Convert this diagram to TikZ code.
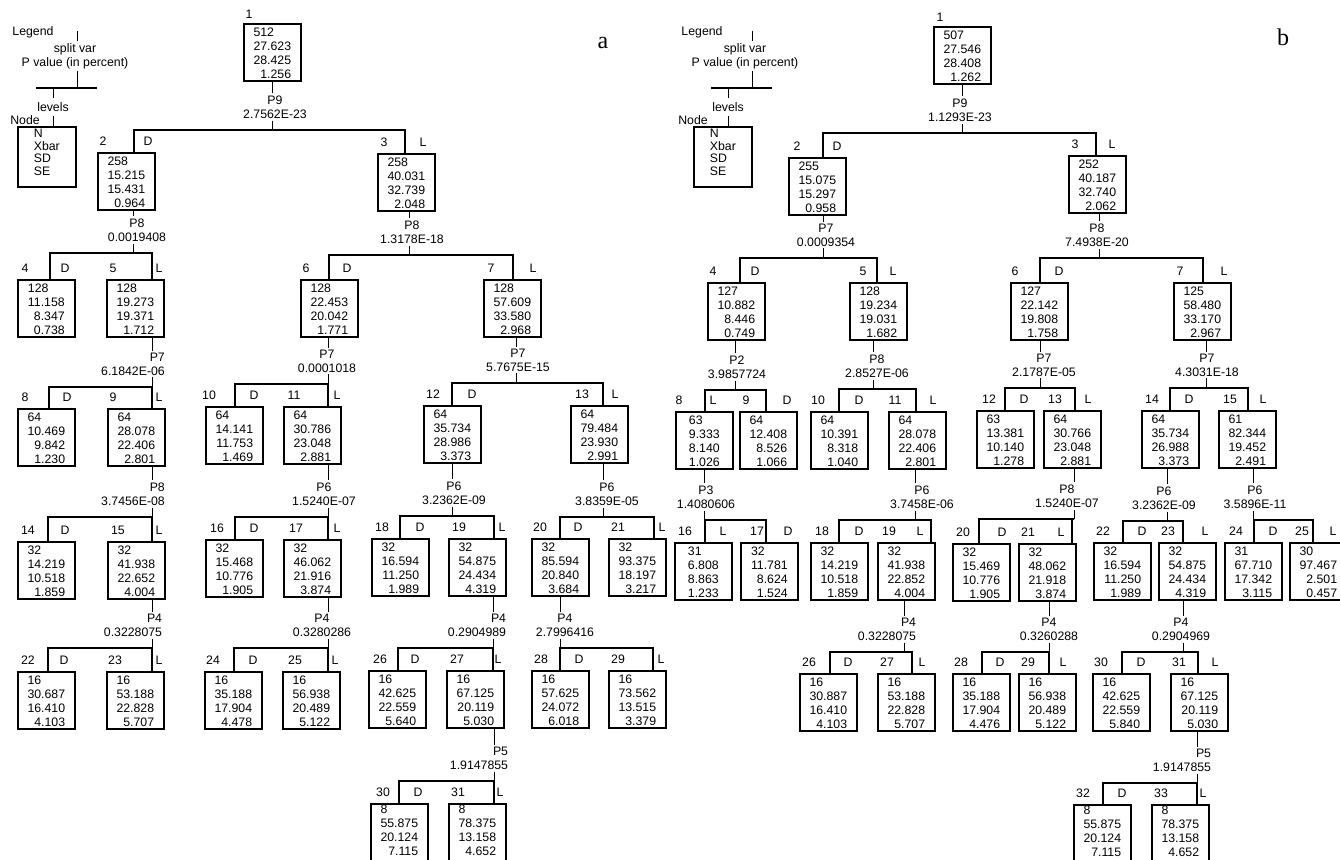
\documentclass[tikz,border=0pt]{standalone}
\usepackage{fontspec}
\setmainfont{Liberation Sans}
\newfontfamily\panelfont{Liberation Serif}

% node contents: N left, the other three right aligned
\newcommand\lift{-2pt}
\newcommand\stats[4]{%
	\raisebox{\lift}[\height][\depth]{\begin{tabular}{@{}r@{}}\multicolumn{1}{@{}l@{}}{#1}\\#2\\#3\\#4\end{tabular}}}

\tikzset{
	stat/.style={draw, line width=1.7pt, anchor=north west, inner sep=0pt,
		minimum width=57pt, minimum height=57pt},
	% last row runs off the page
	statlow/.style={stat, minimum height=70pt},
	legbox/.style={stat, minimum width=58pt, minimum height=60pt},
	% split variable and P value under a node
	splitc/.style={align=center, inner sep=2pt},
	splitr/.style={align=right, inner sep=2pt},
	tag/.style={inner sep=0pt},
	legtag/.style={inner sep=4pt},
	stem/.style={line width=1pt},
	bar/.style={line width=1.7pt},
	panel/.style={inner sep=0pt, font=\panelfont\fontsize{24}{24}\selectfont}
}

\begin{document}
\begin{tikzpicture}[x=1pt, y=-1pt, font=\fontsize{12.3}{14}\selectfont]
	\useasboundingbox (0,0) rectangle (1340,859);

	% Legends
	\foreach \t/\lx/\sx/\vx/\bl/\br/\nx/\bx in {la/33/75/77/36/97/25/17, lb/702/745/752/711/772/693/693}{
		\node (\t-t) at (\lx,32) {Legend};
		\node[splitc] (\t-s) at (\sx,56) {split var\\P value (in percent)};
		\coordinate (\t-top) at (\vx,31);
		\coordinate (\t-j) at (\vx,88);
		\coordinate (\t-bl) at (\bl,88);
		\coordinate (\t-br) at (\br,88);
		\node[legtag] (\t-v) at (\bl+17,107) {levels};
		\node[legtag] (\t-n) at (\nx,120) {Node};
		\node[legbox] (\t-b) at (\bx,126) {\raisebox{3pt}[\height][\depth]{\renewcommand\arraystretch{0.9}%
			\begin{tabular}{@{}l@{}}N\\Xbar\\SD\\SE\end{tabular}}};
		\draw[stem] (\t-top) -- (\t-s.north -| \t-top);
		\draw[stem] (\t-s.south -| \t-j) -- (\t-j);
		\draw[bar] (\t-bl) -- (\t-br);
		\draw[stem] (\t-v.north |- \t-j) -- (\t-v.north);
		\draw[stem] (\t-v.south) -- (\t-v.south |- \t-b.north);
	}

	\node[panel] (pa) at (603,43) {a};
	\node[panel] (pb) at (1283,37) {b};

	% Roots
	\node[stat] (a1) at (243,23) {\stats{512}{27.623}{28.425}{1.256}};
	\node[tag] (a1-k) at (249,14) {1};
	\node[stat] (b1) at (933,26) {\stats{507}{27.546}{28.408}{1.262}};
	\node[tag] (b1-k) at (940,17) {1};

	% Nodes: name/number/left/top/number x/entry x/level/level x/N/Xbar/SD/SE
	\foreach \name/\num/\px/\py/\numx/\vx/\lev/\levx/\cnt/\mean/\sd/\se in {
		a2/2/97/152/103/134/D/148/258/15.215/15.431/0.964,
		a3/3/377/153/384/405/L/423/258/40.031/32.739/2.048,
		a4/4/17/279/25/50/D/65/128/11.158/8.347/0.738,
		a5/5/106/279/113/152/L/159/128/19.273/19.371/1.712,
		a6/6/300/279/306/329/D/347/128/22.453/20.042/1.771,
		a7/7/483/279/491/513/L/533/128/57.609/33.580/2.968,
		a8/8/17/408/25/49/D/67/64/10.469/9.842/1.230,
		a9/9/107/408/113/152/L/159/64/28.078/22.406/2.801,
		a10/10/205/406/209/235/D/254/64/14.141/11.753/1.469,
		a11/11/283/406/294/328/L/337/64/30.786/23.048/2.881,
		a12/12/423/405/433/452/D/472/64/35.734/28.986/3.373,
		a13/13/570/405/582/603/L/615/64/79.484/23.930/2.991,
		a14/14/17/541/28/48/D/65/32/14.219/10.518/1.859,
		a15/15/107/541/118/152/L/159/32/41.938/22.652/4.004,
		a16/16/205/539/217/235/D/254/32/15.468/10.776/1.905,
		a17/17/283/539/296/328/L/337/32/46.062/21.916/3.874,
		a18/18/371/538/382/400/D/420/32/16.594/11.250/1.989,
		a19/19/448/538/459/494/L/502/32/54.875/24.434/4.319,
		a20/20/531/538/540/560/D/578/32/85.594/20.840/3.684,
		a21/21/608/538/618/654/L/662/32/93.375/18.197/3.217,
		a22/22/17/671/28/48/D/64/16/30.687/16.410/4.103,
		a23/23/106/671/115/152/L/159/16/53.188/22.828/5.707,
		a24/24/204/671/213/234/D/253/16/35.188/17.904/4.478,
		a25/25/282/671/295/328/L/335/16/56.938/20.489/5.122,
		a26/26/368/670/380/398/D/415/16/42.625/22.559/5.640,
		a27/27/446/670/457/493/L/498/16/67.125/20.119/5.030,
		a28/28/531/670/541/560/D/579/16/57.625/24.072/6.018,
		a29/29/608/670/618/653/L/661/16/73.562/13.515/3.379,
		a30/30/370/803/383/399/D/418/8/55.875/20.124/7.115,
		a31/31/448/803/458/494/L/500/8/78.375/13.158/4.652,
		b2/2/788/157/797/823/D/837/255/15.075/15.297/0.958,
		b3/3/1068/155/1075/1096/L/1112/252/40.187/32.740/2.062,
		b4/4/707/282/713/740/D/755/127/10.882/8.446/0.749,
		b5/5/849/282/863/877/L/893/128/19.234/19.031/1.682,
		b6/6/1010/282/1015/1040/D/1059/127/22.142/19.808/1.758,
		b7/7/1173/282/1180/1203/L/1224/125/58.480/33.170/2.967,
		b8/8/675/411/679/705/L/713/63/9.333/8.140/1.026,
		b9/9/739/411/746/766/D/787/64/12.408/8.526/1.066,
		b10/10/810/411/818/839/D/859/64/10.391/8.318/1.040,
		b11/11/888/411/895/916/L/933/64/28.078/22.406/2.801,
		b12/12/976/410/989/1005/D/1024/63/13.381/10.140/1.278,
		b13/13/1043/410/1055/1075/L/1088/64/30.766/23.048/2.881,
		b14/14/1141/410/1152/1170/D/1189/64/35.734/26.988/3.373,
		b15/15/1218/410/1230/1248/L/1263/61/82.344/19.452/2.491,
		b16/16/674/542/685/705/L/723/31/6.808/8.863/1.233,
		b17/17/740/542/757/766/D/788/32/11.781/8.624/1.524,
		b18/18/810/542/822/839/D/859/32/14.219/10.518/1.859,
		b19/19/877/542/889/931/L/920/32/41.938/22.852/4.004,
		b20/20/952/543/963/979/D/1002/32/15.469/10.776/1.905,
		b21/21/1018/543/1028/1072/L/1061/32/48.062/21.918/3.874,
		b22/22/1093/542/1103/1123/D/1142/32/16.594/11.250/1.989,
		b23/23/1158/542/1168/1183/L/1205/32/54.875/24.434/4.319,
		b24/24/1224/542/1236/1254/D/1273/31/67.710/17.342/3.115,
		b25/25/1289/542/1302/1313/L/1333/30/97.467/2.501/0.457,
		b26/26/799/673/809/830/D/848/16/30.887/16.410/4.103,
		b27/27/877/673/887/912/L/922/16/53.188/22.828/5.707,
		b28/28/952/673/961/982/D/1000/16/35.188/17.904/4.476,
		b29/29/1018/673/1028/1049/L/1063/16/56.938/20.489/5.122,
		b30/30/1092/673/1101/1122/D/1141/16/42.625/22.559/5.840,
		b31/31/1170/673/1179/1198/L/1215/16/67.125/20.119/5.030,
		b32/32/1073/804/1083/1103/D/1122/8/55.875/20.124/7.115,
		b33/33/1151/804/1161/1197/L/1203/8/78.375/13.158/4.652}{
		\ifnum\py>790 \def\bst{statlow}\def\lift{7.3pt}\else\def\bst{stat}\fi
		\node[\bst] (\name) at (\px,\py) {\stats{\cnt}{\mean}{\sd}{\se}};
		\coordinate (\name-in) at (\vx,\py);
		\node[tag] (\name-k) at (\numx,\py-11) {\num};
		\node[tag] (\name-lv) at (\levx,\py-11) {\lev};
	}

	% Splits: parent/stem x/bar y/label x/style/variable/P value/left/right
	\foreach \pa/\sx/\by/\lx/\st/\var/\pv/\lc/\rc in {
		a1/272/130/275/splitc/P9/2.7562E-23/a2/a3,
		a2/133/253/137/splitc/P8/0.0019408/a4/a5,
		a3/409/255/412/splitc/P8/1.3178E-18/a6/a7,
		a5/152/387/133/splitr/P7/6.1842E-06/a8/a9,
		a6/328/384/327/splitc/P7/0.0001018/a10/a11,
		a7/516/383/518/splitc/P7/5.7675E-15/a12/a13,
		a9/152/517/133/splitr/P8/3.7456E-08/a14/a15,
		a11/328/517/324/splitc/P6/1.5240E-07/a16/a17,
		a12/452/516/454/splitc/P6/3.2362E-09/a18/a19,
		a13/603/517/607/splitc/P6/3.8359E-05/a20/a21,
		a15/152/648/133/splitr/P4/0.3228075/a22/a23,
		a17/328/648/322/splitc/P4/0.3280286/a24/a25,
		a19/493/648/477/splitr/P4/0.2904989/a26/a27,
		a20/560/648/565/splitc/P4/2.7996416/a28/a29,
		a27/494/781/479/splitr/P5/1.9147855/a30/a31,
		b1/962/133/960/splitc/P9/1.1293E-23/b2/b3,
		b2/823/258/826/splitc/P7/0.0009354/b4/b5,
		b3/1099/258/1097/splitc/P8/7.4938E-20/b6/b7,
		b4/735/390/737/splitc/P2/3.9857724/b8/b9,
		b5/873/389/877/splitc/P8/2.8527E-06/b10/b11,
		b6/1040/388/1044/splitc/P7/2.1787E-05/b12/b13,
		b7/1206/388/1207/splitc/P7/4.3031E-18/b14/b15,
		b8/704/520/706/splitc/P3/1.4080606/b16/b17,
		b11/915/520/922/splitc/P6/3.7458E-06/b18/b19,
		b13/1074/519/1067/splitc/P8/1.5240E-07/b20/b21,
		b14/1167/521/1164/splitc/P6/3.2362E-09/b22/b23,
		b15/1253/520/1255/splitc/P6/3.5896E-11/b24/b25,
		b19/904/652/887/splitr/P4/0.3228075/b26/b27,
		b21/1049/652/1049/splitc/P4/0.3260288/b28/b29,
		b23/1183/652/1181/splitc/P4/0.2904969/b30/b31,
		b31/1197/783/1182/splitr/P5/1.9147855/b32/b33}{
		\node[\st] (\pa-s) at (\lx,\by-23) {\var\\\pv};
		\coordinate (\pa-j) at (\sx,\by);
		\draw[stem] (\pa.south -| \pa-j) -- (\pa-s.north -| \pa-j);
		\draw[stem] (\pa-s.south -| \pa-j) -- (\pa-j);
		\draw[bar] (\lc-in) |- (\pa-j) -| (\rc-in);
	}
\end{tikzpicture}
\end{document}
